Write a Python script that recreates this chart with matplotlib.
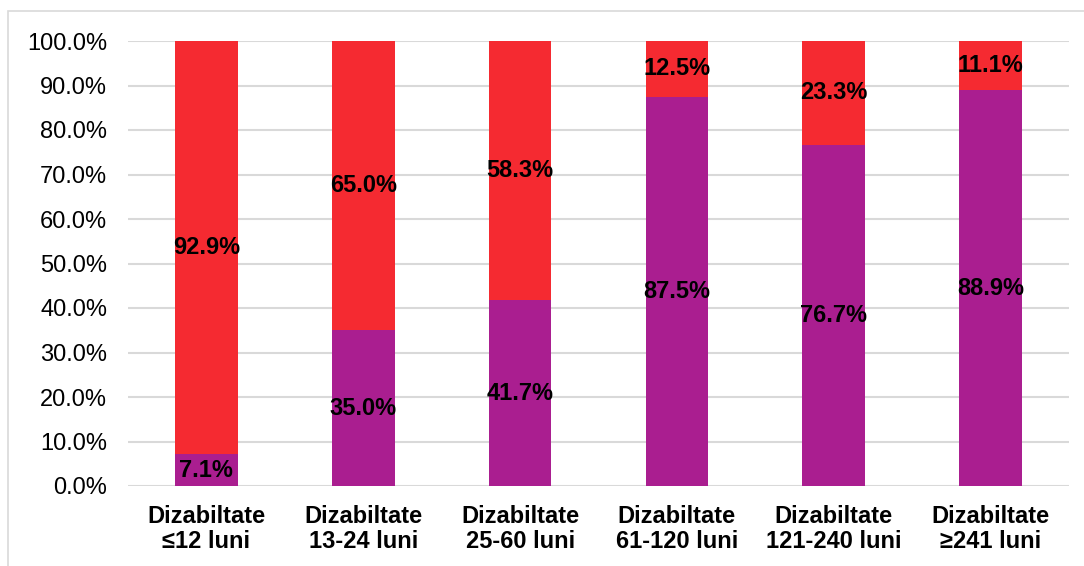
import matplotlib
matplotlib.use("Agg")
import matplotlib.pyplot as plt
from matplotlib.patches import Rectangle

categories = ["Dizabiltate\n≤12 luni", "Dizabiltate\n13-24 luni", "Dizabiltate\n25-60 luni",
              "Dizabiltate\n61-120 luni", "Dizabiltate\n121-240 luni", "Dizabiltate\n≥241 luni"]
purple_vals = [7.1, 35.0, 41.7, 87.5, 76.7, 88.9]
red_vals = [92.9, 65.0, 58.3, 12.5, 23.3, 11.1]
yticks = [0, 10, 20, 30, 40, 50, 60, 70, 80, 90, 100]

PURPLE = "#AA1E90"
RED = "#F52A31"
GRID = "#D9D9D9"

plt.rcParams['font.family'] = ['Liberation Sans', 'DejaVu Sans']

W, H = 1084, 566
fig = plt.figure(figsize=(W / 100, H / 100), dpi=100)
ax = fig.add_axes([128 / W, 1 - 486 / H, (1069 - 128) / W, (486 - 41) / H])

x = list(range(len(categories)))
ax.bar(x, purple_vals, width=0.4, color=PURPLE, zorder=3)
ax.bar(x, red_vals, width=0.4, bottom=purple_vals, color=RED, zorder=3)

for i in x:
    p = purple_vals[i]
    r = red_vals[i]
    ax.text(i, p / 2, f"{p:.1f}%", ha="center", va="center", fontsize=17,
            fontweight="bold", color="black", zorder=4)
    ax.text(i, p + r / 2, f"{r:.1f}%", ha="center", va="center", fontsize=17,
            fontweight="bold", color="black", zorder=4)

ax.set_xlim(-0.5, 5.5)
ax.set_ylim(0, 100)
ax.set_yticks(yticks)
ax.set_yticklabels([f"{v:.1f}%" for v in yticks], fontsize=17)
ax.set_xticks(x)
ax.set_xticklabels(categories, fontsize=17, fontweight="bold", linespacing=1.08)
ax.tick_params(axis="both", length=0)
ax.tick_params(axis="y", pad=15)
ax.tick_params(axis="x", pad=14)
ax.yaxis.grid(True, color=GRID, linewidth=1.5, zorder=0)
ax.set_axisbelow(True)
for s in ax.spines.values():
    s.set_visible(False)

fig.patches.append(Rectangle((8 / W, -0.05), 1.2, 1 - 11 / H + 0.05, transform=fig.transFigure,
                             fill=False, edgecolor=GRID, linewidth=1.2))

fig.savefig("out.png", dpi=100)
